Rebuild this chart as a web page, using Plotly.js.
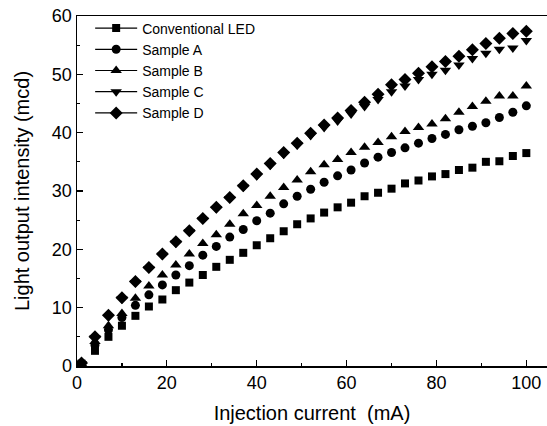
<!DOCTYPE html>
<html>
<head>
<meta charset="utf-8">
<script src="https://cdn.plot.ly/plotly-3.0.1.min.js"></script>
<style>
  html, body { margin: 0; padding: 0; background: #fff; overflow: hidden; }
  #chart { width: 547px; height: 426px; }
</style>
</head>
<body>
<div id="chart"></div>
<script>
const current = [1, 4, 7, 10, 13, 16, 19, 22, 25, 28, 31, 34, 37, 40, 43, 46, 49, 52, 55, 58, 61, 64, 67, 70, 73, 76, 79, 82, 85, 88, 91, 94, 97, 100];

const conventionalLED = [0.4, 2.6, 5.0, 6.9, 8.6, 10.2, 11.4, 13.0, 14.3, 15.6, 17.0, 18.2, 19.4, 20.7, 21.9, 23.1, 24.3, 25.3, 26.3, 27.2, 28.0, 29.1, 29.7, 30.4, 31.3, 31.8, 32.5, 32.9, 33.6, 34.0, 35.0, 35.1, 36.0, 36.5];
const sampleA = [0.4, 3.6, 6.2, 8.3, 10.4, 12.2, 13.9, 15.6, 17.2, 19.0, 20.5, 22.1, 23.4, 24.9, 26.2, 27.8, 29.1, 30.3, 31.5, 32.6, 33.6, 34.8, 35.8, 36.6, 37.4, 38.2, 39.0, 39.7, 40.5, 41.1, 41.7, 42.6, 43.5, 44.6];
const sampleB = [0.4, 4.2, 6.9, 9.0, 11.6, 13.7, 15.6, 17.3, 19.2, 21.0, 22.5, 24.3, 26.1, 27.5, 29.1, 30.6, 31.9, 33.3, 34.5, 35.4, 36.6, 37.5, 38.3, 39.3, 40.2, 40.9, 41.5, 42.4, 43.5, 44.5, 45.4, 46.3, 46.3, 48.0];
const sampleC = [0.4, 4.8, 8.5, 11.5, 14.3, 16.7, 19.0, 21.1, 23.0, 25.1, 27.0, 28.7, 30.7, 32.6, 34.4, 36.3, 37.9, 39.5, 40.9, 42.0, 43.2, 44.5, 45.7, 47.0, 48.0, 49.1, 50.0, 50.7, 51.6, 52.7, 53.6, 54.3, 54.5, 55.8];
const sampleD = [0.5, 5.0, 8.7, 11.7, 14.5, 16.9, 19.2, 21.3, 23.2, 25.3, 27.2, 28.9, 30.9, 32.9, 34.7, 36.6, 38.2, 39.9, 41.3, 42.5, 43.8, 45.2, 46.6, 48.2, 49.1, 50.2, 51.3, 52.2, 53.1, 54.2, 55.3, 56.2, 57.0, 57.4];

const seriesNames = ["Conventional LED", "Sample A", "Sample B", "Sample C", "Sample D"];
const seriesValues = [conventionalLED, sampleA, sampleB, sampleC, sampleD];
const symbols = ["square", "circle", "triangle-up", "triangle-down", "diamond"];
const sizes = [8, 9, 10, 10, 10];

const traces = [];
// data traces (markers only)
seriesValues.forEach((vals, i) => {
  traces.push({
    x: current, y: vals, type: "scatter", mode: "markers",
    name: seriesNames[i], showlegend: false,
    marker: { symbol: symbols[i], size: sizes[i], color: "#000" }
  });
});
// legend entries (line + marker)
seriesNames.forEach((n, i) => {
  traces.push({
    x: [null], y: [null], type: "scatter", mode: "lines+markers",
    name: n, showlegend: true,
    line: { color: "#000", width: 1.2 },
    marker: { symbol: symbols[i], size: sizes[i], color: "#000" }
  });
});

const layout = {
  width: 547, height: 426,
  margin: { l: 77, r: 0, t: 16, b: 60 },
  paper_bgcolor: "#fff", plot_bgcolor: "#fff",
  font: { family: "Liberation Sans, Arial, sans-serif", color: "#000", size: 17 },
  showlegend: true,
  legend: {
    x: 0.028, y: 1.01, xanchor: "left", yanchor: "top",
    bgcolor: "rgba(0,0,0,0)", font: { size: 14 },
    itemwidth: 42,
    tracegroupgap: 0
  },
  xaxis: {
    range: [0, 104.6], showgrid: false, zeroline: false,
    showline: true, linecolor: "#000", linewidth: 1.5, mirror: true,
    ticks: "inside", ticklen: 6, tickwidth: 1.2, tickcolor: "#000",
    dtick: 20, tick0: 0,
    minor: { dtick: 10, ticks: "inside", ticklen: 3, tickwidth: 1.2, tickcolor: "#000" },
    tickfont: { size: 18 },
    title: { text: "Injection current&nbsp; (mA)", font: { size: 20 }, standoff: 14 }
  },
  yaxis: {
    range: [0, 60], showgrid: false, zeroline: false,
    showline: true, linecolor: "#000", linewidth: 1.5, mirror: false,
    ticks: "inside", ticklen: 6, tickwidth: 1.2, tickcolor: "#000",
    dtick: 10, tick0: 0,
    minor: { dtick: 5, ticks: "inside", ticklen: 3, tickwidth: 1.2, tickcolor: "#000" },
    tickfont: { size: 18 },
    title: { text: "Light output intensity (mcd)", font: { size: 20 }, standoff: 17 }
  }
};

Plotly.newPlot("chart", traces, layout, { displayModeBar: false, staticPlot: true });
</script>
</body>
</html>
